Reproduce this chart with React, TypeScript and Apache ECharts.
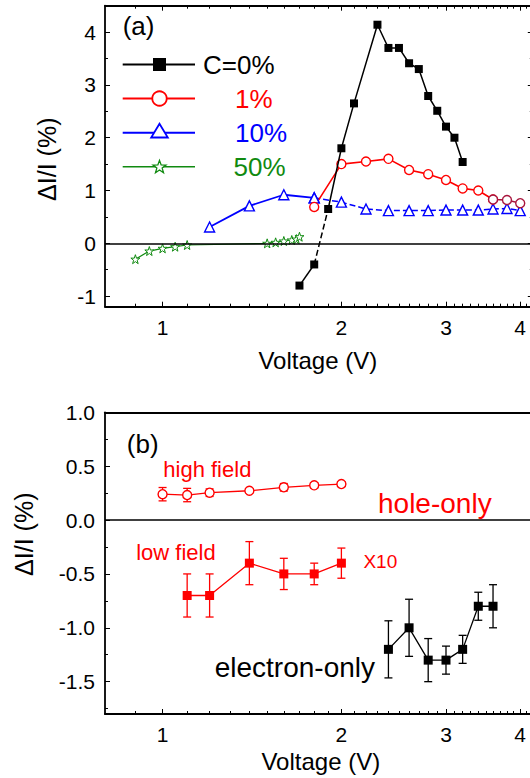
import React, { useEffect, useRef } from 'react';
import * as echarts from 'echarts';

// ---------- Panel (a) data ----------
const c0V = [1.7, 1.8, 1.9, 2.0, 2.1, 2.3, 2.4, 2.5, 2.6, 2.7, 2.8, 2.9, 3.0, 3.1, 3.2];
const c0Y = [-0.8, -0.4, 0.65, 1.8, 2.65, 4.14, 3.7, 3.7, 3.41, 3.3, 2.79, 2.51, 2.21, 2.0, 1.54];
const c1V = [1.8, 2.0, 2.2, 2.4, 2.6, 2.8, 3.0, 3.2, 3.4, 3.6, 3.8, 4.0];
const c1Y = [0.69, 1.5, 1.55, 1.6, 1.39, 1.31, 1.2, 1.04, 1.0, 0.83, 0.82, 0.76];
const c10V = [1.2, 1.4, 1.6, 1.8, 2.0, 2.2, 2.4, 2.6, 2.8, 3.0, 3.2, 3.4, 3.6, 3.8, 4.0];
const c10Y = [0.31, 0.71, 0.92, 0.86, 0.78, 0.65, 0.62, 0.62, 0.62, 0.63, 0.63, 0.63, 0.65, 0.66, 0.62];
const c50V = [0.9, 0.95, 1.0, 1.05, 1.1, 1.5, 1.55, 1.6, 1.65, 1.68, 1.7];
const c50Y = [-0.3, -0.146, -0.095, -0.064, -0.032, 0.0, 0.019, 0.044, 0.063, 0.08, 0.125];

// ---------- Panel (b) data ----------
const highV = [1.0, 1.1, 1.2, 1.4, 1.6, 1.8, 2.0];
const highY = [0.24, 0.232, 0.254, 0.272, 0.304, 0.322, 0.334];
const highErr = [0.062, 0.062, 0.035, 0.02, 0.035, 0.025, 0.02];
const lowV = [1.1, 1.2, 1.4, 1.6, 1.8, 2.0];
const lowY = [-0.7, -0.7, -0.4, -0.5, -0.5, -0.4];
const lowErr = [0.2, 0.2, 0.2, 0.145, 0.1, 0.14];
const elecV = [2.4, 2.6, 2.8, 3.0, 3.2, 3.4, 3.6];
const elecY = [-1.2, -1.0, -1.3, -1.3, -1.2, -0.8, -0.8];
const elecErr = [0.265, 0.265, 0.2, 0.13, 0.13, 0.13, 0.2];

// ---------- Axis ticks ----------
const xRange = [0.8, 4.2];
const xMajor = [1, 2, 3, 4];
const xMinor = [0.9, 1.1, 1.2, 1.3, 1.4, 1.5, 1.6, 1.7, 1.8, 1.9, 2.1, 2.2, 2.3, 2.4, 2.5, 2.6, 2.7, 2.8, 2.9,
  3.1, 3.2, 3.3, 3.4, 3.5, 3.6, 3.7, 3.8, 3.9, 4.1];
const yRangeA = [-1.2, 4.5];
const yMajorA = [-1, 0, 1, 2, 3, 4];
const yMinorA = [-0.5, 0.5, 1.5, 2.5, 3.5];
const yRangeB = [-1.8, 1.0];
const yMajorB = [-1.5, -1.0, -0.5, 0, 0.5, 1.0];
const yMinorB = [-1.75, -1.25, -0.75, -0.25, 0.25, 0.75];

const FONT = '"Liberation Sans", Arial, Helvetica, sans-serif';
const TICK_FONT = 21;
const L = (v: number) => Math.log10(v);
const pts = (vs: number[], ys: number[]) => vs.map((v, i) => [L(v), ys[i]]);
const errPts = (vs: number[], ys: number[], es: number[]) =>
  vs.map((v, i) => [L(v), ys[i] - es[i], ys[i] + es[i]]);

const BLACK = '#000000';
const RED = '#ff0000';
const DARKRED = '#a8143c';
const BLUE = '#0000ff';
const GREEN = '#108a10';
const STAR = 'path://M50,0 L61.8,35.3 L97.6,34.5 L69,56.5 L79.4,90.5 L50,70 L20.6,90.5 L31,56.5 L2.4,34.5 L38.2,35.3 Z';

const tickStyle = { color: '#000', width: 1 };
const frameStyle = { color: '#000', width: 1.8 };

function xAxesFor(gridIndex: number, topTicks: boolean) {
  const base = { type: 'value', gridIndex, min: L(xRange[0]), max: L(xRange[1]), splitLine: { show: false } };
  const none = { show: false };
  return [
    {
      ...base, position: 'bottom',
      axisLine: { show: true, onZero: false, lineStyle: frameStyle },
      axisTick: { show: true, inside: true, length: 5, customValues: xMajor.map(L), lineStyle: tickStyle },
      axisLabel: {
        show: true, customValues: xMajor.map(L), margin: 10, fontSize: TICK_FONT, color: '#000', fontFamily: FONT,
        formatter: (v: number) => String(Math.round(Math.pow(10, v))),
      },
    },
    {
      ...base, position: 'bottom', axisLine: { show: false, onZero: false },
      axisTick: { show: true, inside: true, length: 3, customValues: xMinor.map(L), lineStyle: tickStyle },
      axisLabel: none,
    },
    {
      ...base, position: 'top', axisLine: { show: true, onZero: false, lineStyle: frameStyle },
      axisTick: topTicks ? { show: true, inside: true, length: 5, customValues: xMajor.map(L), lineStyle: tickStyle } : none,
      axisLabel: none,
    },
    {
      ...base, position: 'top', axisLine: { show: false, onZero: false },
      axisTick: topTicks ? { show: true, inside: true, length: 3, customValues: xMinor.map(L), lineStyle: tickStyle } : none,
      axisLabel: none,
    },
  ];
}

function yAxesFor(gridIndex: number, range: number[], major: number[], minor: number[],
  fmt: (v: number) => string, margin: number, rightTicks: boolean) {
  const base = { type: 'value', gridIndex, min: range[0], max: range[1], splitLine: { show: false } };
  const none = { show: false };
  return [
    {
      ...base, position: 'left',
      axisLine: { show: true, onZero: false, lineStyle: frameStyle },
      axisTick: { show: true, inside: true, length: 5, customValues: major, lineStyle: tickStyle },
      axisLabel: { show: true, customValues: major, margin, fontSize: TICK_FONT, color: '#000', fontFamily: FONT, formatter: fmt },
    },
    {
      ...base, position: 'left', axisLine: { show: false, onZero: false },
      axisTick: { show: true, inside: true, length: 3, customValues: minor, lineStyle: tickStyle },
      axisLabel: none,
    },
    {
      ...base, position: 'right', axisLine: { show: true, onZero: false, lineStyle: frameStyle },
      axisTick: rightTicks ? { show: true, inside: true, length: 5, customValues: major, lineStyle: tickStyle } : none,
      axisLabel: none,
    },
    {
      ...base, position: 'right', axisLine: { show: false, onZero: false },
      axisTick: rightTicks ? { show: true, inside: true, length: 3, customValues: minor, lineStyle: tickStyle } : none,
      axisLabel: none,
    },
  ];
}

function lineSeries(data: number[][], color: string, opts: any = {}) {
  return {
    type: 'line', xAxisIndex: opts.grid === 1 ? 4 : 0, yAxisIndex: opts.grid === 1 ? 4 : 0,
    data, z: opts.z ?? 3,
    showSymbol: opts.symbol !== 'none',
    symbol: opts.symbol ?? 'rect',
    symbolSize: opts.size ?? 8,
    lineStyle: { color, width: opts.width ?? 1.5, type: opts.dash ?? 'solid' },
    itemStyle: opts.hollow
      ? { color: '#fff', borderColor: color, borderWidth: opts.bw ?? 1.4 }
      : { color, borderColor: color, borderWidth: 0 },
    emphasis: { disabled: true },
    silent: true,
    markLine: opts.markLine,
  };
}

function errSeries(data: number[][], color: string) {
  return {
    type: 'custom', xAxisIndex: 4, yAxisIndex: 4, coordinateSystem: 'cartesian2d', z: 2, silent: true,
    encode: { x: 0, y: [1, 2] },
    data,
    renderItem: (params: any, api: any) => {
      const x = api.value(0);
      const lo = api.coord([x, api.value(1)]);
      const hi = api.coord([x, api.value(2)]);
      const w = 4;
      const style = { stroke: color, lineWidth: 1.3 };
      return {
        type: 'group',
        children: [
          { type: 'line', shape: { x1: lo[0], y1: lo[1], x2: hi[0], y2: hi[1] }, style },
          { type: 'line', shape: { x1: lo[0] - w, y1: lo[1], x2: lo[0] + w, y2: lo[1] }, style },
          { type: 'line', shape: { x1: hi[0] - w, y1: hi[1], x2: hi[0] + w, y2: hi[1] }, style },
        ],
      };
    },
  };
}

const zeroLine = {
  silent: true, symbol: ['none', 'none'], label: { show: false },
  lineStyle: { color: '#000', width: 1.5, type: 'solid' }, data: [{ yAxis: 0 }],
  emphasis: { disabled: true },
};

function starPoints(cx: number, cy: number, R: number, r: number) {
  const p: number[][] = [];
  for (let k = 0; k < 10; k++) {
    const a = -Math.PI / 2 + (k * Math.PI) / 5;
    const rad = k % 2 === 0 ? R : r;
    p.push([cx + rad * Math.cos(a), cy + rad * Math.sin(a)]);
  }
  return p;
}

function txt(text: string, x: number, y: number, size: number, color: string, align = 'left', rotation = 0) {
  return {
    type: 'text', x, y, rotation, silent: true,
    style: {
      text, fill: color, font: `${size}px ${FONT}`,
      align, verticalAlign: 'middle', textAlign: align, textVerticalAlign: 'middle',
    },
  };
}

const legendRows = [
  { y: 64.5, color: BLACK, label: 'C=0%', tx: 203 },
  { y: 98.5, color: RED, label: '1%', tx: 235 },
  { y: 132.7, color: BLUE, label: '10%', tx: 235 },
  { y: 166.7, color: GREEN, label: '50%', tx: 233.5 },
];

function legendGraphics() {
  const g: any[] = [];
  const mx = 159.5;
  legendRows.forEach((r, i) => {
    g.push({ type: 'line', silent: true, shape: { x1: 122.7, y1: r.y, x2: 195, y2: r.y }, style: { stroke: r.color, lineWidth: i === 3 ? 1.5 : 2 } });
    if (i === 0) g.push({ type: 'rect', silent: true, shape: { x: mx - 6.5, y: r.y - 6.5, width: 13, height: 13 }, style: { fill: BLACK } });
    if (i === 1) g.push({ type: 'circle', silent: true, shape: { cx: mx, cy: r.y, r: 7.2 }, style: { fill: '#fff', stroke: RED, lineWidth: 1.8 } });
    if (i === 2) g.push({ type: 'polygon', silent: true, shape: { points: [[mx, r.y - 9], [mx - 8.3, r.y + 4.8], [mx + 8.3, r.y + 4.8]] }, style: { fill: '#fff', stroke: BLUE, lineWidth: 1.8 } });
    if (i === 3) g.push({ type: 'polygon', silent: true, shape: { points: starPoints(mx, r.y + 0.5, 6.8, 2.8) }, style: { fill: '#fff', stroke: GREEN, lineWidth: 1.3 } });
    g.push(txt(r.label, r.tx, r.y + 0.5, 26, r.color));
  });
  return g;
}

const option: any = {
  animation: false,
  backgroundColor: '#ffffff',
  grid: [
    { left: 105, top: 5.7, width: 427.8, height: 301, containLabel: false, outerBoundsMode: 'none' },
    { left: 105, top: 412.3, width: 427.8, height: 301.7, containLabel: false, outerBoundsMode: 'none' },
  ],
  xAxis: [...xAxesFor(0, true), ...xAxesFor(1, false)],
  yAxis: [
    ...yAxesFor(0, yRangeA, yMajorA, yMinorA, (v: number) => String(v), 9, true),
    ...yAxesFor(1, yRangeB, yMajorB, yMinorB, (v: number) => v.toFixed(1), 10, false),
  ],
  series: [
    // panel (a)
    lineSeries(pts(c50V, c50Y), GREEN, { symbol: STAR, size: 9, hollow: true, bw: 1, width: 1.2, markLine: zeroLine }),
    lineSeries(pts(c10V.slice(0, 4), c10Y.slice(0, 4)), BLUE, { symbol: 'triangle', size: 10, hollow: true, width: 1.8 }),
    lineSeries(pts(c10V.slice(3), c10Y.slice(3)), BLUE, { symbol: 'triangle', size: 10, hollow: true, width: 1.5, dash: [6, 3] }),
    lineSeries(pts(c1V.slice(0, 10), c1Y.slice(0, 10)), RED, { symbol: 'circle', size: 9, hollow: true, width: 1.6 }),
    lineSeries(pts(c1V.slice(9), c1Y.slice(9)), DARKRED, { symbol: 'circle', size: 9, hollow: true, width: 1.6 }),
    lineSeries(pts(c0V.slice(0, 2), c0Y.slice(0, 2)), BLACK, { symbol: 'rect', size: 8, width: 1.5, z: 4 }),
    lineSeries(pts(c0V.slice(1, 3), c0Y.slice(1, 3)), BLACK, { symbol: 'none', width: 1.5, dash: [6, 3], z: 4 }),
    lineSeries(pts(c0V.slice(2), c0Y.slice(2)), BLACK, { symbol: 'rect', size: 8, width: 1.5, z: 4 }),
    // panel (b)
    errSeries(errPts(highV, highY, highErr), RED),
    lineSeries(pts(highV, highY), RED, { grid: 1, symbol: 'circle', size: 9, hollow: true, bw: 1.4, width: 1.3, markLine: zeroLine }),
    errSeries(errPts(lowV, lowY, lowErr), RED),
    lineSeries(pts(lowV, lowY), RED, { grid: 1, symbol: 'rect', size: 9, width: 1.3 }),
    errSeries(errPts(elecV, elecY, elecErr), BLACK),
    lineSeries(pts(elecV, elecY), BLACK, { grid: 1, symbol: 'rect', size: 9, width: 1.3 }),
  ],
  graphic: [
    txt('(a)', 122.7, 25.5, 26, BLACK),
    ...legendGraphics(),
    txt('ΔI/I (%)', 47, 159.2, 25, BLACK, 'center', Math.PI / 2),
    txt('Voltage (V)', 317.8, 360, 24, BLACK, 'center'),
    txt('(b)', 126.8, 443.5, 26, BLACK),
    txt('high field', 163.3, 469.8, 22, RED),
    txt('hole-only', 378, 503.6, 28, RED),
    txt('low field', 136.2, 552.3, 22, RED),
    txt('X10', 363.4, 561.8, 19, RED),
    txt('electron-only', 214.7, 667.6, 28, BLACK),
    txt('ΔI/I (%)', 24, 534.2, 25, BLACK, 'center', Math.PI / 2),
    txt('Voltage (V)', 320.8, 761.7, 24, BLACK, 'center'),
  ],
};

export default function App() {
  const ref = useRef<HTMLDivElement>(null);
  useEffect(() => {
    if (!ref.current) return;
    const chart = echarts.init(ref.current, null, { renderer: 'svg' });
    chart.setOption(option);
    return () => chart.dispose();
  }, []);
  return (
    <div
      ref={ref}
      style={{ position: 'fixed', left: 0, top: 0, width: 530, height: 778, background: '#fff' }}
    />
  );
}
